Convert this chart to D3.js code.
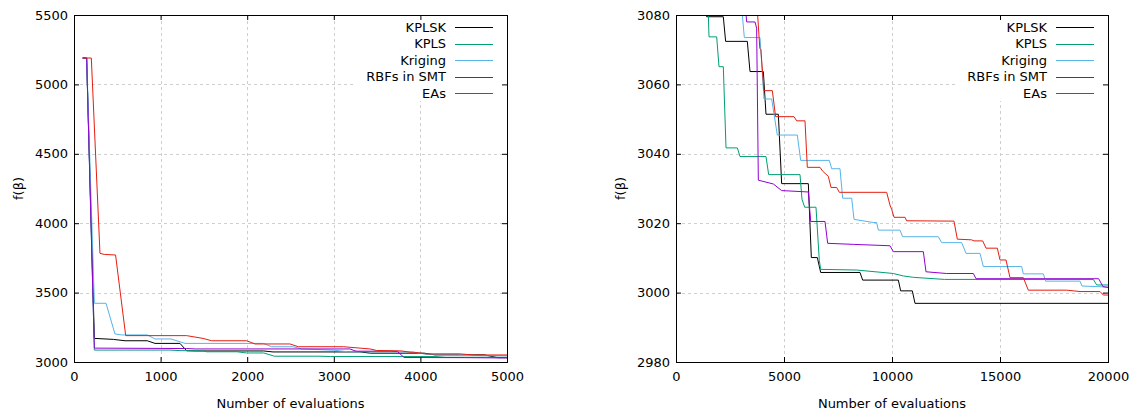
<!DOCTYPE html>
<html><head><meta charset="utf-8">
<script src="https://cdn.jsdelivr.net/npm/d3@7"></script>
<style>
body{margin:0;background:#fff}
svg text{font-family:"DejaVu Sans";font-size:13px;fill:#000}
</style>
</head><body>
<svg id="c" width="1137" height="412"></svg>
<script>
// ---------------- data ----------------
const seriesNames = ["KPLSK", "KPLS", "Kriging", "RBFs in SMT", "EAs"];
const xLabel = "Number of evaluations";
const yLabel = "f(β)";

const leftXTicks = [0, 1000, 2000, 3000, 4000, 5000];
const leftYTicks = [3000, 3500, 4000, 4500, 5000, 5500];
const rightXTicks = [0, 5000, 10000, 15000, 20000];
const rightYTicks = [2980, 3000, 3020, 3040, 3060, 3080];

const kplsk = [[100,5190],[146,5190],[235,3170],[454,3163],[589,3153],[846,3153],[935,3134],[1224,3134],[1301,3081],[1420,3079.5],[2190,3079.5],[2298,3072.4],[3302,3072.4],[3426,3063.7],[4043,3063.7],[4167,3051.4],[4738,3051.4],[4892,3031.4],[6127,3031.4],[6265,3010.1],[6543,3010.1],[6698,3005.8],[8519,3005.8],[8642,3003.6],[10293,3003.6],[10401,3000.5],[10941,3000.5],[11065,2996.9],[20000,2996.9]];

const kpls = [[100,5190],[146,5190],[235,3086],[1108,3086],[1224,3082],[1497,3080],[1528,3073.7],[1883,3073.7],[1991,3065.1],[2191,3065.1],[2315,3041.7],[2840,3041.7],[2963,3039.2],[4167,3039.2],[4290,3034],[5741,3034],[5833,3026.9],[5957,3024.6],[6481,3024.6],[6636,3009.2],[6698,3006.7],[8364,3006.5],[9907,3005.6],[10062,3005.5],[10525,3004.8],[10988,3004.4],[12432,3003.8],[19321,3003.8],[19475,3002.2],[20000,3002.2]];

const kriging = [[100,5190],[146,5190],[235,3423],[370,3423],[473,3202],[550,3195],[846,3195],[935,3166],[1120,3166],[1282,3134],[2186,3134],[2282,3110],[2530,3110],[2629,3094],[3000,3085],[3071,3080],[3164,3073.5],[3889,3073.5],[4074,3055.8],[4429,3055.8],[4691,3045.4],[5617,3045.4],[5772,3038.1],[7099,3038.1],[7207,3035.7],[7593,3035.7],[7716,3027.2],[8133,3027.2],[8241,3021.1],[9136,3020.2],[9290,3020.2],[9367,3018],[10370,3018],[10494,3016.1],[12145,3016.1],[12299,3014.4],[13225,3014.4],[13426,3011.3],[14074,3011.3],[14228,3007.5],[16003,3007.5],[16080,3005.4],[17006,3005.4],[17114,3003.3],[18704,3003.3],[18796,3001.9],[20000,3001.6]];

const rbfs = [[100,5190],[146,5190],[235,3100],[1300,3097],[1400,3094],[3187,3094],[3245,3080],[3272,3078],[3657,3078],[3734,3076.2],[3812,3032.4],[4506,3031.3],[4892,3029.4],[6127,3029],[6235,3020.5],[6898,3020.5],[7022,3014.2],[8210,3013.9],[9907,3013.5],[10062,3011.8],[11451,3011.8],[11574,3006],[12525,3005.5],[13765,3005.5],[13889,3004],[19568,3004],[19769,3001.7],[20000,3001.5]];

const eas = [[100,5190],[200,5190],[300,3783],[350,3775],[480,3771],[597,3190],[1300,3190],[1490,3170],[1590,3153],[1994,3153],[2090,3130],[2494,3130],[2590,3110],[3110,3110],[3418,3094],[3495,3083],[3780,3080],[3880,3070.4],[3930,3070],[4070,3058.2],[4460,3058.2],[4610,3050.7],[5463,3050.7],[5586,3049.5],[5972,3049.5],[6080,3036.1],[6667,3036.1],[6790,3035],[7052,3033.5],[7176,3030.3],[7438,3030.3],[7562,3028.9],[9753,3028.9],[9907,3025.2],[9985,3024],[10093,3021.7],[10602,3021.7],[10679,3020.7],[12870,3020.6],[13025,3015.4],[13688,3015.2],[13796,3014.9],[14198,3014.9],[14352,3012.8],[14877,3012.8],[15000,3009.4],[15278,3009.4],[15463,3004.3],[16080,3004.3],[16312,3000.7],[18086,3000.7],[18704,3000.3],[19630,3000.3],[19784,2999.3],[20000,2999.3]];

const seriesData = [kplsk, kpls, kriging, rbfs, eas];
const seriesColors = ["#000000", "#009e73", "#56b4e9", "#9400d3", "#e51e10"];

// ---------------- layout ----------------
const panels = [
  {id:"L", x0:74, x1:507, y0:15, y1:362, xDomain:[0,5000], yDomain:[3000,5500], xTicks:leftXTicks, yTicks:leftYTicks, keyX:355},
  {id:"R", x0:676, x1:1108, y0:15, y1:362, xDomain:[0,20000], yDomain:[2980,3080], xTicks:rightXTicks, yTicks:rightYTicks, keyX:957}
];

const svg = d3.select("#c");
const defs = svg.append("defs");

panels.forEach(p => {
  const x = d3.scaleLinear().domain(p.xDomain).range([p.x0, p.x1]);
  const y = d3.scaleLinear().domain(p.yDomain).range([p.y1, p.y0]);
  const g = svg.append("g");

  // grid
  const grid = g.append("g").attr("stroke", "#cfcfcf").attr("stroke-width", 1).attr("stroke-dasharray", "3,3");
  p.xTicks.filter(t => t > p.xDomain[0] && t < p.xDomain[1]).forEach(t => {
    grid.append("line").attr("x1", Math.round(x(t)) + 0.5).attr("x2", Math.round(x(t)) + 0.5)
      .attr("y1", p.y0).attr("y2", p.y1);
  });
  p.yTicks.filter(t => t > p.yDomain[0] && t < p.yDomain[1]).forEach(t => {
    grid.append("line").attr("y1", Math.round(y(t)) + 0.5).attr("y2", Math.round(y(t)) + 0.5)
      .attr("x1", p.x0).attr("x2", p.x1);
  });

  // opaque key box
  g.append("rect").attr("x", p.keyX).attr("y", p.y0 + 1).attr("width", p.x1 - p.keyX).attr("height", 85).attr("fill", "#fff");

  // clip
  defs.append("clipPath").attr("id", "clip" + p.id).append("rect")
    .attr("x", p.x0).attr("y", p.y0).attr("width", p.x1 - p.x0).attr("height", p.y1 - p.y0);

  const line = d3.line().x(d => x(d[0])).y(d => y(d[1]));
  const lines = g.append("g").attr("clip-path", `url(#clip${p.id})`);
  seriesData.forEach((s, i) => {
    lines.append("path").datum(s).attr("d", line).attr("fill", "none")
      .attr("stroke", seriesColors[i]).attr("stroke-width", 1).attr("stroke-linejoin", "miter");
  });

  // axes
  const fmt = d3.format("d");
  const styleAxis = a => { a.select(".domain").remove(); a.attr("font-family", "DejaVu Sans").attr("font-size", 13).attr("color", "#000"); };
  g.append("g").attr("transform", `translate(0,${p.y1})`)
    .call(d3.axisBottom(x).tickValues(p.xTicks).tickFormat(fmt).tickSizeInner(-5).tickSizeOuter(0).tickPadding(10)).call(styleAxis);
  g.append("g").attr("transform", `translate(0,${p.y0})`)
    .call(d3.axisTop(x).tickValues(p.xTicks).tickFormat("").tickSizeInner(-5).tickSizeOuter(0)).call(styleAxis);
  g.append("g").attr("transform", `translate(${p.x0},0)`)
    .call(d3.axisLeft(y).tickValues(p.yTicks).tickFormat(fmt).tickSizeInner(-5).tickSizeOuter(0).tickPadding(6)).call(styleAxis);
  g.append("g").attr("transform", `translate(${p.x1},0)`)
    .call(d3.axisRight(y).tickValues(p.yTicks).tickFormat("").tickSizeInner(-5).tickSizeOuter(0)).call(styleAxis);

  // frame
  g.append("rect").attr("x", p.x0 + 0.5).attr("y", p.y0 + 0.5).attr("width", p.x1 - p.x0).attr("height", p.y1 - p.y0)
    .attr("fill", "none").attr("stroke", "#000").attr("stroke-width", 1);

  // labels
  g.append("text").attr("x", (p.x0 + p.x1) / 2).attr("y", 408).attr("text-anchor", "middle").text(xLabel);
  const ylx = p.x0 - 56;
  g.append("text").attr("transform", `translate(${ylx},${(p.y0 + p.y1) / 2}) rotate(-90)`)
    .attr("text-anchor", "middle").attr("dy", "0.35em").text(yLabel);

  // legend
  const lineEnd = p.x1 - 14, lineStart = lineEnd - 38, textEnd = lineStart - 9;
  seriesNames.forEach((n, i) => {
    const cy = 27.3 + i * 16.5;
    g.append("text").attr("x", textEnd).attr("y", cy).attr("dy", "0.36em").attr("text-anchor", "end").text(n);
    g.append("line").attr("x1", lineStart).attr("x2", lineEnd).attr("y1", Math.round(cy) + 0.5).attr("y2", Math.round(cy) + 0.5)
      .attr("stroke", seriesColors[i]).attr("stroke-width", 1);
  });
});
</script>
</body></html>
